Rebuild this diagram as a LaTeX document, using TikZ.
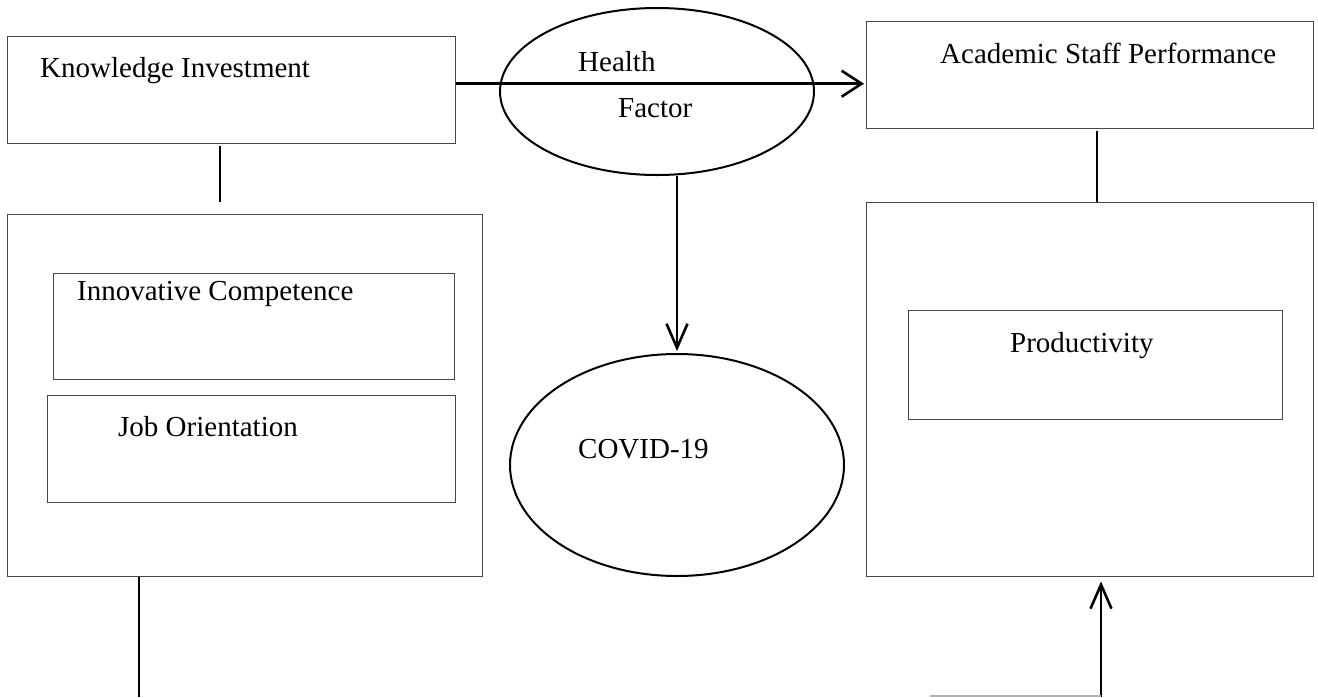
\documentclass[tikz,border=0pt]{standalone}
\usepackage{fontspec}
\setmainfont{Liberation Serif}
\usetikzlibrary{shapes.geometric,arrows.meta,calc}
\begin{document}
\begin{tikzpicture}[x=1pt,y=-1pt,
  every node/.style={font=\fontsize{29}{34}\selectfont},
  box/.style={draw=black!72, line width=1.4pt, rectangle, inner sep=0pt, anchor=north west},
  ell/.style={draw=black, line width=2pt, ellipse, inner sep=0pt},
  lbl/.style={inner sep=0pt, anchor=base west},
  link/.style={draw=black, line width=1.8pt},
  flow/.style={draw=black, line width=2.6pt},
  hbarb/.style={-{Straight Barb[length=20pt,width=26pt,line width=2.6pt]}},
  vbarb/.style={-{Straight Barb[length=24pt,width=21pt,line width=2.6pt]}}]
\useasboundingbox[fill=white] (0,0) rectangle (1318,697);

% boxes
\node[box, minimum width=448pt, minimum height=107pt] (KI) at (7,36) {};
\node[box, minimum width=475pt, minimum height=362pt] (LB) at (7,214) {};
\node[box, minimum width=401pt, minimum height=106pt] (IC) at (53,273) {};
\node[box, minimum width=408pt, minimum height=107pt] (JO) at (47,395) {};
\node[box, minimum width=447pt, minimum height=107pt] (AS) at (866,21) {};
\node[box, minimum width=447pt, minimum height=374pt] (RB) at (866,202) {};
\node[box, minimum width=374pt, minimum height=109pt] (PR) at (908,310) {};

% ellipses
\node[ell, minimum width=314pt, minimum height=167pt] (HF) at (657,91.5) {};
\node[ell, minimum width=334pt, minimum height=222pt] (CV) at (677,465) {};

% labels
\node[lbl] (tKI) at (40,77) {Knowledge Investment};
\node[lbl] (tH) at (578,71) {Health};
\node[lbl] (tF) at (618,117) {Factor};
\node[lbl] (tAS) at (940,63) {Academic Staff Performance};
\node[lbl] (tIC) at (77,300) {Innovative Competence};
\node[lbl] (tJO) at (118,436) {Job Orientation};
\node[lbl] (tPR) at (1010,352) {Productivity};
\node[lbl] (tCV) at (578,458) {COVID-19};

% free ends at the bottom edge
\coordinate (botL) at (139,697);
\coordinate (botR) at (1101,697);
\coordinate (botRfar) at (930,696);

% connectors
\path[link] ($(KI.south west)+(213,2)$) -- ($(LB.north west)+(213,-12)$);
\path[link] ($(AS.south west)+(231,2)$) -- ($(RB.north west)+(231,0)$);
\path[flow, hbarb] ($(KI.east)+(0,-6.5)$) -- ($(AS.west |- KI.east)+(-2,-6.5)$);
\path[flow, vbarb] ($(HF.south)+(20,0)$) -- ($(CV.north)+(0,-2)$);
\path[link] ($(LB.south west)+(132,0)$) -- (botL);
\path[flow, vbarb] (botR) -- ($(RB.south west)+(235,4)$);
\draw[black!30, line width=2pt] (botRfar) -- ($(botR)+(0,-1)$);
\end{tikzpicture}
\end{document}
